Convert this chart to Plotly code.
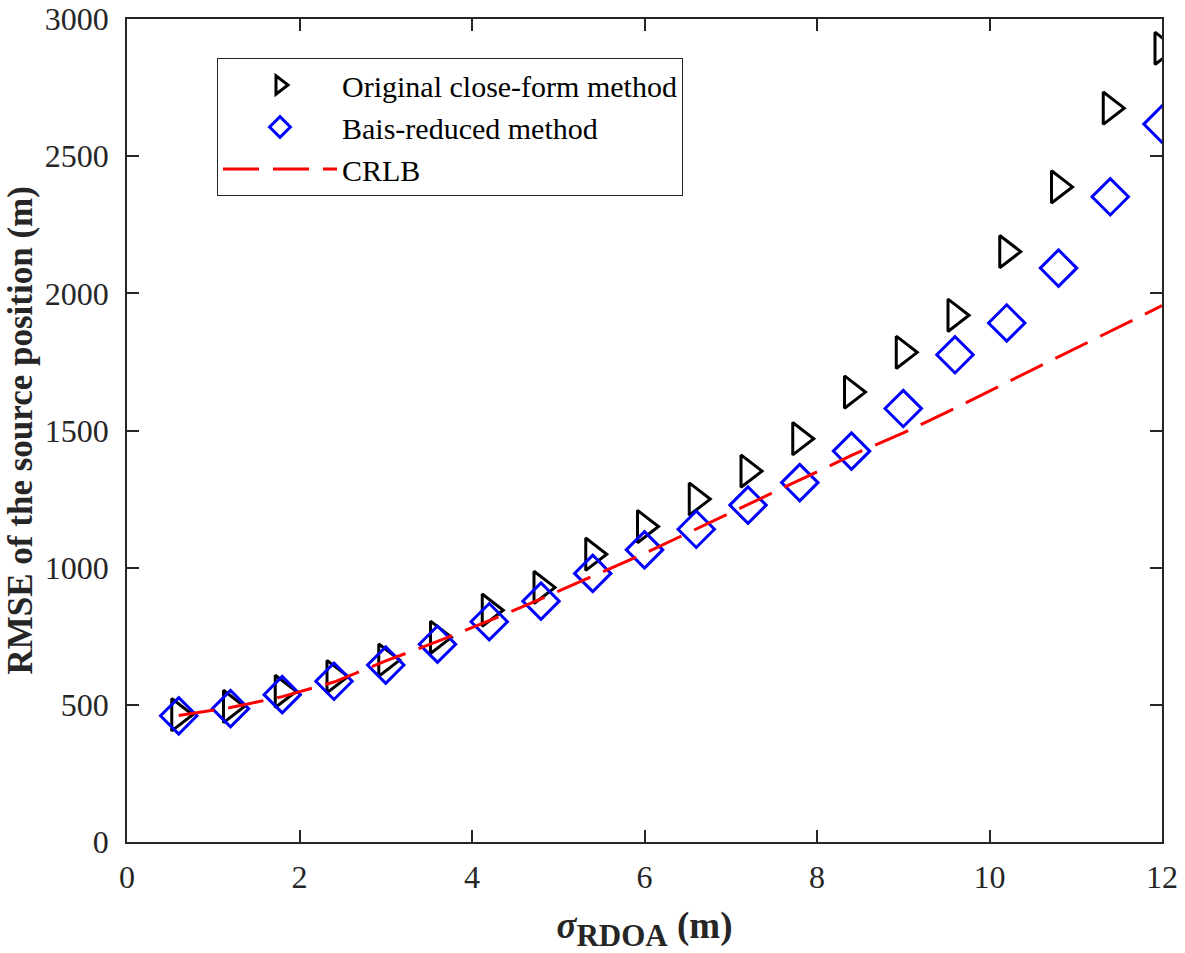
import plotly.graph_objects as go

sigma = [0.6, 1.2, 1.8, 2.4, 3.0, 3.6, 4.2, 4.8, 5.4, 6.0,
         6.6, 7.2, 7.8, 8.4, 9.0, 9.6, 10.2, 10.8, 11.4, 12.0]
original = [464, 494, 549, 603, 663, 746, 845, 928, 1049, 1150,
            1250, 1352, 1470, 1640, 1785, 1920, 2152, 2388, 2675, 2893]
bias_reduced = [460, 486, 537, 586, 645, 721, 803, 878, 979, 1065,
                1140, 1228, 1310, 1425, 1580, 1776, 1892, 2092, 2352, 2617]
crlb = [461, 490, 530, 583, 660, 731, 807, 886, 969, 1052,
        1141, 1230, 1319, 1409, 1491, 1581, 1675, 1768, 1862, 1955]

x_ticks = [0, 2, 4, 6, 8, 10, 12]
y_ticks = [0, 500, 1000, 1500, 2000, 2500, 3000]

FONT = "Liberation Serif"
AXC = "#262626"
L, R, T, B = 127, 23, 19, 111
W, H = 1185, 953

fig = go.Figure()
fig.add_trace(go.Scatter(
    x=sigma, y=original, mode="markers", name="Original close-form method",
    marker=dict(symbol="triangle-right-open", size=28, color="black",
                line=dict(width=3, color="black"))))
fig.add_trace(go.Scatter(
    x=sigma, y=bias_reduced, mode="markers", name="Bais-reduced method",
    marker=dict(symbol="diamond-open", size=28, color="#0000ff",
                line=dict(width=3, color="#0000ff"))))
fig.add_trace(go.Scatter(
    x=sigma, y=crlb, mode="lines", name="CRLB",
    line=dict(color="#ff0000", width=3, dash="36px,14px")))

axis_common = dict(
    showline=True, linecolor=AXC, linewidth=1.5, mirror="allticks",
    ticks="inside", ticklen=12, tickwidth=1.5, tickcolor=AXC,
    showgrid=False, zeroline=False, automargin=False,
    ticklabeloverflow="allow",
    tickfont=dict(family=FONT, size=32, color=AXC),
)

plot_w = W - L - R
plot_h = H - T - B

fig.update_layout(
    width=W, height=H,
    margin=dict(l=L, r=R, t=T, b=B),
    paper_bgcolor="white", plot_bgcolor="white",
    font=dict(family=FONT, color="black"),
    xaxis=dict(range=[0, 12], tickvals=x_ticks, ticklabelstandoff=6, **axis_common,
               title=dict(text="<b><i>σ</i><sub><span style='font-size:31px'>RDOA</span></sub> (m)</b>",
                          font=dict(family=FONT, size=37, color=AXC), standoff=18)),
    yaxis=dict(range=[0, 3000], tickvals=y_ticks, ticklabelstandoff=10, **axis_common),
    legend=dict(x=(217 - L) / plot_w, y=1 - (58 - T) / plot_h, xanchor="left", yanchor="top",
                bgcolor="white", bordercolor=AXC, borderwidth=1,
                font=dict(family=FONT, size=30, color="black"),
                itemwidth=114, tracegroupgap=0),
    showlegend=True,
    annotations=[dict(
        text="<b>RMSE of the source position (m)</b>",
        xref="paper", yref="paper", x=(20 - L) / plot_w, y=0.5,
        xanchor="center", yanchor="middle", textangle=-90, showarrow=False,
        font=dict(family=FONT, size=35, color=AXC))],
)

fig.write_html("out.html", config={"displayModeBar": False},
               post_script="document.body.style.margin='0';document.body.style.padding='0';")
